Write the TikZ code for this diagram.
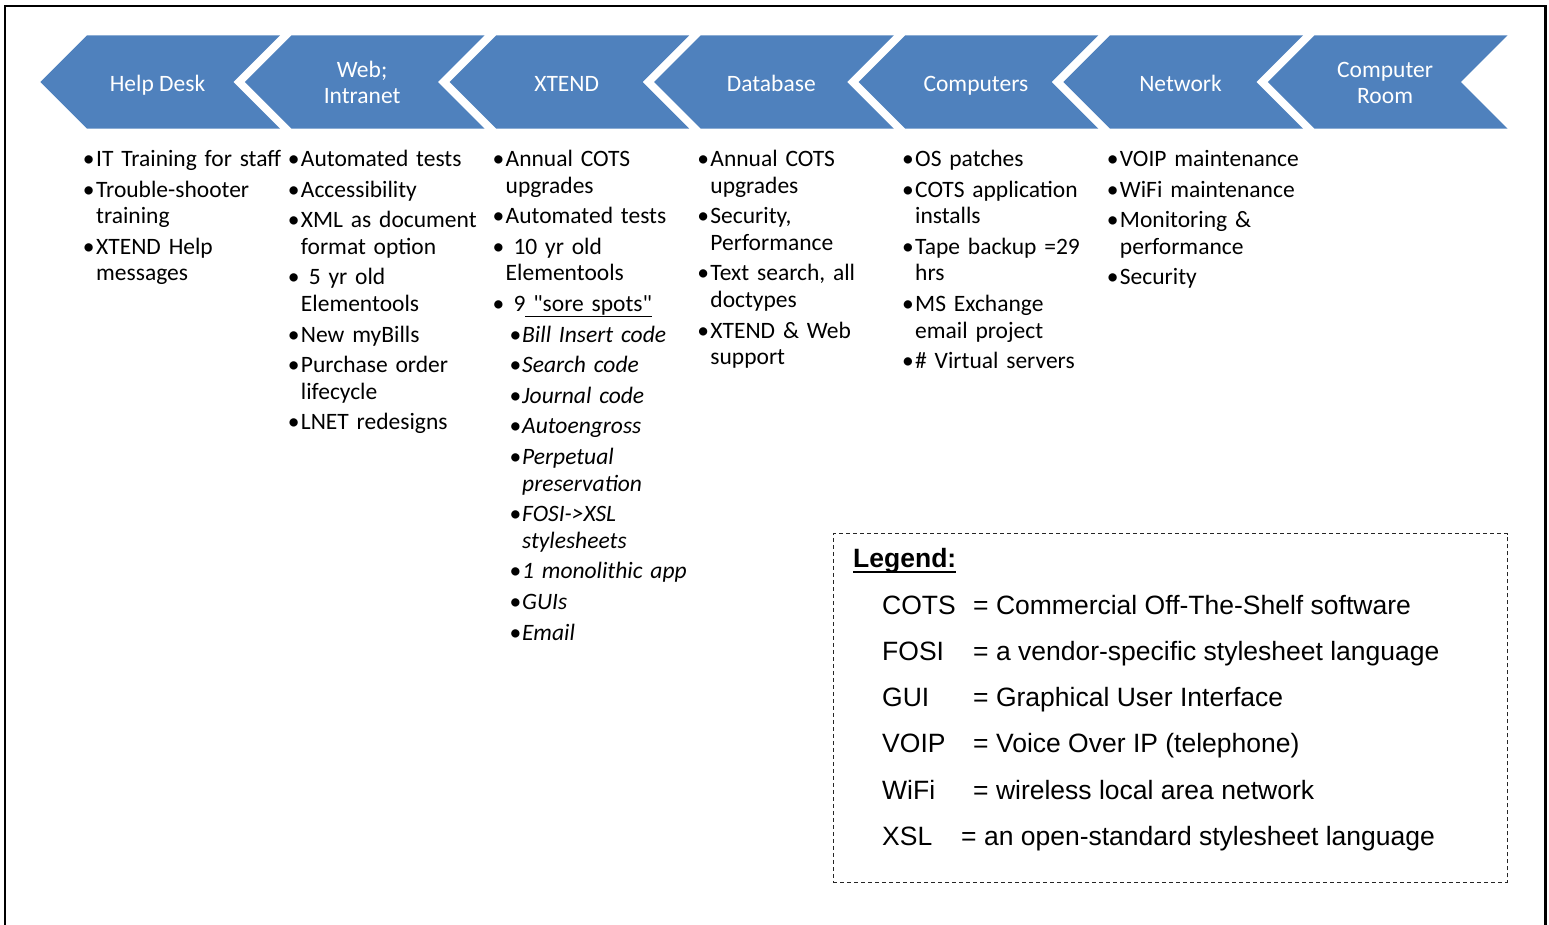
\documentclass[tikz,border=0pt]{standalone}
\usepackage{fontspec}
\setmainfont{Carlito}
\newfontfamily\legendfont{Liberation Sans}
\definecolor{chevblue}{HTML}{4F81BD}
% straight double quote, set as a glyph so no input mapping curls it
\newcommand\sdq{\XeTeXglyph\numexpr\XeTeXcharglyph"22\relax}
\tikzset{
  chevron/.style={fill=chevblue, draw=none},
  chevlabel/.style={anchor=base, inner sep=0pt, text=white, font=\fontsize{23.5}{26}\selectfont},
  chevlabeltwo/.style={chevlabel, text width=200pt, align=center},
  item/.style={anchor=base west, inner sep=0pt, text width=200pt, align=left,
    font=\fontsize{23.5}{26.6}\selectfont},
  legendbox/.style={draw=black!85, line width=1.1pt, dash pattern=on 4pt off 3pt,
    inner sep=0pt, anchor=north west},
  legendtext/.style={anchor=base west, inner sep=0pt, font=\legendfont\fontsize{26.5}{30}\selectfont},
  framerule/.style={line width=2.3pt, black},
}
% bulleted item and italic sub-item: name, x, baseline y, text
\newcommand\bitem[4]{\node[item] (#1) at (#2,#3) {\llap{\textbullet\hspace{1.5pt}}#4};}
\newcommand\sitem[4]{\node[item] (#1) at (#2,#3) {\llap{\textbullet\hspace{1pt}}\itshape #4};}

\begin{document}
\begin{tikzpicture}[x=1pt, y=-1pt]
\useasboundingbox (0,0) rectangle (1549,924);

% outer frame
\draw[framerule] (5.3,930) -- (5.3,6) -- (1545.5,6) -- (1545.5,930);

% chevron row
\foreach \i in {0,...,6}{
  \pgfmathsetmacro\d{204.6*\i}
  \fill[chevron] ({40.3+\d},82) -- ({87+\d},35.3) -- ({280+\d},35.3) -- ({233.3+\d},82)
    -- ({280+\d},128.7) -- ({87+\d},128.7) -- cycle;
}
\node[chevlabel] (hd) at (157.5,91) {Help Desk};
\node[chevlabeltwo] (web) at (362.1,77) {Web;\\Intranet};
\node[chevlabel] (xt) at (566.7,91) {XTEND};
\node[chevlabel] (db) at (771.3,91) {Database};
\node[chevlabel] (cp) at (975.9,91) {Computers};
\node[chevlabel] (nw) at (1180.5,91) {Network};
\node[chevlabeltwo] (cr) at (1385.1,77) {Computer\\Room};

% Help Desk column
\bitem{a1}{96}{166.5}{IT Training for staff}
\bitem{a2}{96}{197.1}{Trouble-shooter\\training}
\bitem{a3}{96}{254.3}{XTEND Help\\messages}

% Web; Intranet column
\bitem{b1}{300.75}{166.5}{Automated tests}
\bitem{b2}{300.75}{197.1}{Accessibility}
\bitem{b3}{300.75}{227.7}{XML as document\\format option}
\bitem{b4}{300.75}{284.9}{\ 5 yr old\\Elementools}
\bitem{b5}{300.75}{342.1}{New myBills}
\bitem{b6}{300.75}{372.7}{Purchase order\\lifecycle}
\bitem{b7}{300.75}{429.9}{LNET redesigns}

% XTEND column
\bitem{c1}{505.5}{166.5}{Annual COTS\\upgrades}
\bitem{c2}{505.5}{223.7}{Automated tests}
\bitem{c3}{505.5}{254.3}{\ 10 yr old\\Elementools}
\bitem{c4}{505.5}{311.5}{\ 9\underline{ \sdq sore spots\sdq}}
\sitem{c5}{522}{342.1}{Bill Insert code}
\sitem{c6}{522}{372.7}{Search code}
\sitem{c7}{522}{403.3}{Journal code}
\sitem{c8}{522}{433.9}{Autoengross}
\sitem{c9}{522}{464.5}{Perpetual\\preservation}
\sitem{c10}{522}{521.7}{FOSI->XSL\\stylesheets}
\sitem{c11}{522}{578.9}{1 monolithic app}
\sitem{c12}{522}{609.5}{GUIs}
\sitem{c13}{522}{640.1}{Email}

% Database column
\bitem{d1}{710.25}{166.5}{Annual COTS\\upgrades}
\bitem{d2}{710.25}{223.7}{Security,\\Performance}
\bitem{d3}{710.25}{280.9}{Text search, all\\doctypes}
\bitem{d4}{710.25}{338.1}{XTEND \& Web\\support}

% Computers column
\bitem{e1}{915}{166.5}{OS patches}
\bitem{e2}{915}{197.1}{COTS application\\installs}
\bitem{e3}{915}{254.3}{Tape backup =29\\hrs}
\bitem{e4}{915}{311.5}{MS Exchange\\email project}
\bitem{e5}{915}{368.7}{\# Virtual servers}

% Network column
\bitem{f1}{1119.75}{166.5}{VOIP maintenance}
\bitem{f2}{1119.75}{197.1}{WiFi maintenance}
\bitem{f3}{1119.75}{227.7}{Monitoring \&\\performance}
\bitem{f4}{1119.75}{284.9}{Security}

% legend
\node[legendbox, minimum width=674pt, minimum height=348.7pt] (legend) at (832.7,533) {};
\node[legendtext, font=\legendfont\bfseries\fontsize{26.5}{30}\selectfont] (legtitle) at (853,567) {Legend:};
\draw[line width=2.2pt] ([yshift=-4.6pt]legtitle.base west) -- ([yshift=-4.6pt]legtitle.base east);

\node[legendtext] (k1) at (882,614) {COTS};
\node[legendtext] (v1) at (973,614) {= Commercial Off-The-Shelf software};
\node[legendtext] (k2) at (882,660.3) {FOSI};
\node[legendtext] (v2) at (973,660.3) {= a vendor-specific stylesheet language};
\node[legendtext] (k3) at (882,706.6) {GUI};
\node[legendtext] (v3) at (973,706.6) {= Graphical User Interface};
\node[legendtext] (k4) at (882,752.9) {VOIP};
\node[legendtext] (v4) at (973,752.9) {= Voice Over IP (telephone)};
\node[legendtext] (k5) at (882,799.2) {WiFi};
\node[legendtext] (v5) at (973,799.2) {= wireless local area network};
\node[legendtext] (k6) at (882,845.5) {XSL};
\node[legendtext] (v6) at (961,845.5) {= an open-standard stylesheet language};
\end{tikzpicture}
\end{document}
